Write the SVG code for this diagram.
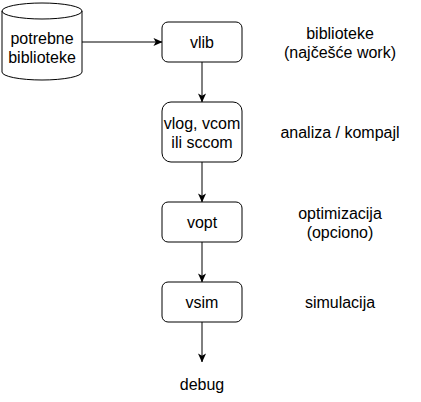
<svg xmlns="http://www.w3.org/2000/svg" width="421" height="402" viewBox="0 0 421 402">
<defs>
<style>
text{font-family:"Liberation Sans",Arial,sans-serif;font-size:16px;fill:#000;text-anchor:middle}
.box{fill:#fff;stroke:#000;stroke-width:1}
.edge{fill:none;stroke:#000;stroke-width:1}
</style>
<marker id="arr" viewBox="0 0 10 10" refX="9.5" refY="5" markerWidth="9" markerHeight="9" markerUnits="userSpaceOnUse" orient="auto">
<path d="M0,0.5 L10,5 L0,9.5 L2.5,5 Z" fill="#000"/>
</marker>
</defs>
<rect width="421" height="402" fill="#fff"/>
<g id="connectors">
<path class="edge" d="M82,42 L162,42" marker-end="url(#arr)"/>
<path class="edge" d="M202,62 L202,102" marker-end="url(#arr)"/>
<path class="edge" d="M202,162 L202,202" marker-end="url(#arr)"/>
<path class="edge" d="M202,242 L202,282" marker-end="url(#arr)"/>
<path class="edge" d="M202,322 L202,362" marker-end="url(#arr)"/>
</g>
<g id="cyl">
<path class="box" d="M2,11 A40,8 0 0 1 82,11 L82,72 A40,8 0 0 1 2,72 Z"/>
<path class="edge" d="M2,11 A40,8 0 0 0 82,11"/>
<text x="42" y="44">potrebne</text>
<text x="42" y="63">biblioteke</text>
</g>
<g id="vlib">
<rect class="box" x="162" y="22" width="80" height="40" rx="6"/>
<text x="202" y="48">vlib</text>
</g>
<g id="vlog">
<rect class="box" x="162" y="102" width="80" height="60" rx="9"/>
<text x="202" y="129">vlog, vcom</text>
<text x="202" y="148">ili sccom</text>
</g>
<g id="vopt">
<rect class="box" x="162" y="202" width="80" height="40" rx="6"/>
<text x="202" y="228">vopt</text>
</g>
<g id="vsim">
<rect class="box" x="162" y="282" width="80" height="40" rx="6"/>
<text x="202" y="308">vsim</text>
</g>
<g id="debug"><text x="202" y="390">debug</text></g>
<g id="lbl1"><text x="340" y="39">biblioteke</text><text x="340" y="58">(najčešće work)</text></g>
<g id="lbl2"><text x="340" y="138">analiza / kompajl</text></g>
<g id="lbl3"><text x="340" y="219">optimizacija</text><text x="340" y="238">(opciono)</text></g>
<g id="lbl4"><text x="340" y="308">simulacija</text></g>
</svg>
